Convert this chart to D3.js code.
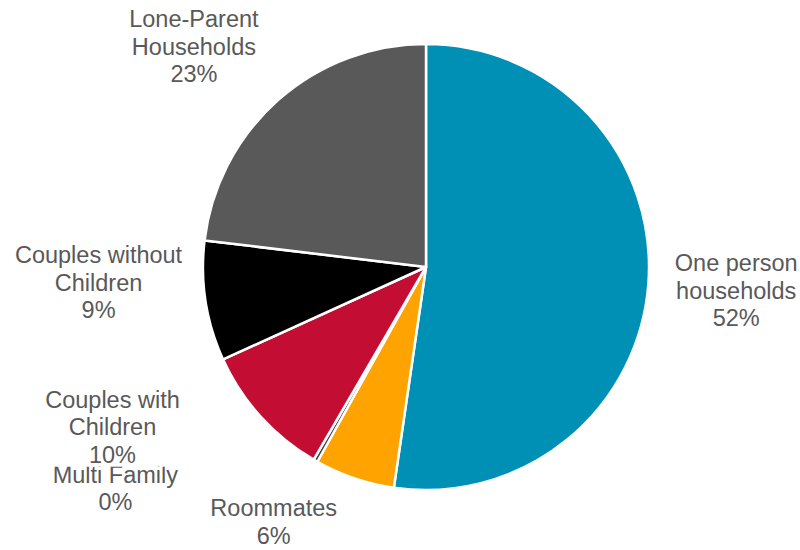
<!DOCTYPE html>
<html>
<head>
<meta charset="utf-8">
<script src="https://cdn.jsdelivr.net/npm/d3@7"></script>
<style>
  body { margin: 0; background: #fff; }
  text { font-family: "Liberation Sans", Arial, sans-serif; }
</style>
</head>
<body>
<svg id="chart"></svg>
<script>
// household types, clockwise from 12 o'clock
const categories = ["One person households", "Roommates", "Multi Family",
    "Couples with Children", "Couples without Children", "Lone-Parent Households"];
const labelLines = [["One person", "households"], ["Roommates"], ["Multi Family"],
    ["Couples with", "Children"], ["Couples without", "Children"], ["Lone-Parent", "Households"]];
const shares = [52.3, 5.8, 0.3, 9.8, 8.7, 23.1];
const pctLabels = ["52%", "6%", "0%", "10%", "9%", "23%"];
const colors = ["#0090b5", "#ffa300", "#404040", "#c40d32", "#000000", "#595959"];

const width = 800, height = 550;
const cx = 426, cy = 267, radius = 223;
const labelRadius = 300;
const lineH = 27.5;

// Excel shuffles the outside labels around, so nudge them off the plain centroid
const labelNudge = {
    "One person households": [11, 10],
    "Roommates": [-56, -21],
    "Multi Family": [-162, -31],
    "Couples with Children": [-91, -33],
    "Couples without Children": [-31, -22],
    "Lone-Parent Households": [-33, 12]
};

const data = categories.map((c, i) => ({
    name: c, value: shares[i], lines: labelLines[i].concat([pctLabels[i]]), color: colors[i]
}));

const svg = d3.select("#chart").attr("width", width).attr("height", height);
const g = svg.append("g").attr("transform", `translate(${cx}, ${cy})`);

const pie = d3.pie().sort(null).value(d => d.value);
const arc = d3.arc().innerRadius(0).outerRadius(radius);
const labelArc = d3.arc().innerRadius(labelRadius).outerRadius(labelRadius);

const arcs = pie(data);

g.selectAll(".slice")
    .data(arcs)
    .join("path")
    .attr("class", "slice")
    .attr("d", arc)
    .attr("fill", d => d.data.color)
    .attr("stroke", "#fff")
    .attr("stroke-width", 2.5)
    .attr("stroke-linejoin", "round");

// each label sits on a white box, like the Excel original (it clips "Multi Family")
const labels = g.selectAll(".label")
    .data(arcs)
    .join("g")
    .attr("class", "label")
    .attr("transform", d => {
        const [x, y] = labelArc.centroid(d);
        const [nx, ny] = labelNudge[d.data.name];
        return `translate(${x + nx}, ${y + ny})`;
    });

const bg = labels.append("rect").attr("fill", "#fff");

const txt = labels.append("text")
    .attr("text-anchor", "middle")
    .attr("fill", "#595959")
    .style("font-size", "23.5px");

txt.selectAll("tspan")
    .data(d => d.data.lines.map((t, i) => ({ t, i, n: d.data.lines.length })))
    .join("tspan")
    .attr("x", 0)
    .attr("y", d => (d.i - (d.n - 1) / 2) * lineH)
    .text(d => d.t);

bg.each(function() {
    const b = d3.select(this.parentNode).select("text").node().getBBox();
    d3.select(this)
        .attr("x", b.x).attr("y", b.y)
        .attr("width", b.width).attr("height", b.height - 1);
});
</script>
</body>
</html>
